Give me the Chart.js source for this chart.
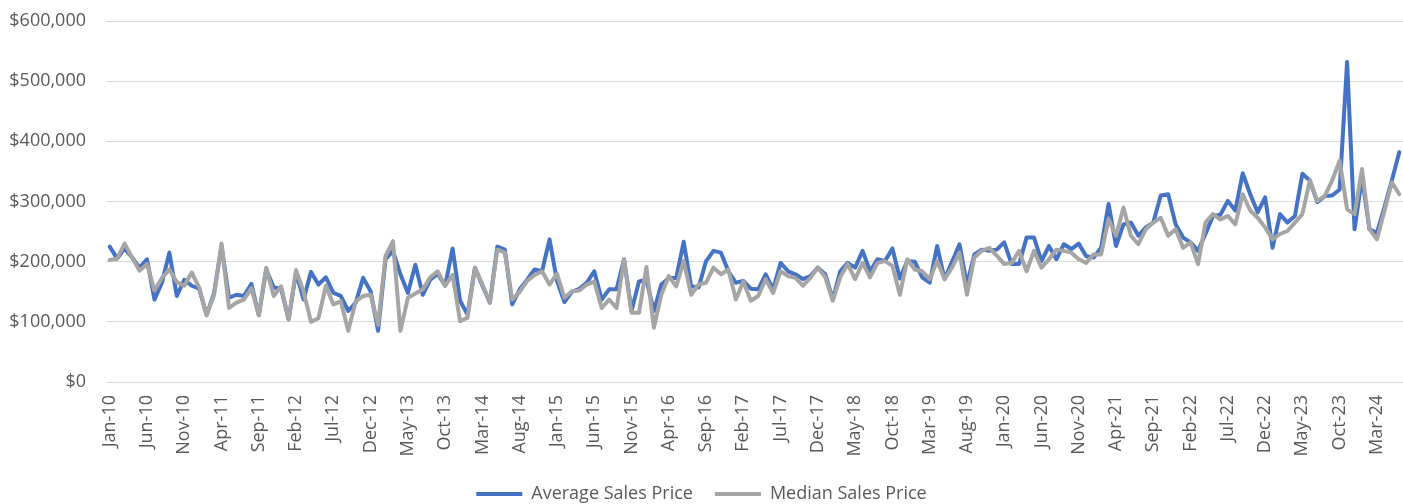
<!DOCTYPE html>
<html>
<head>
<meta charset="utf-8">
<script src="https://cdn.jsdelivr.net/npm/chart.js@4.4.1/dist/chart.umd.min.js"></script>
<style>
  html, body { margin: 0; padding: 0; background: #fff; }
  #wrap { width: 1403px; height: 504px; position: relative; }
</style>
</head>
<body>
<div id="wrap"><canvas id="salesChart"></canvas></div>
<script>
// Monthly categories, Jan-10 .. Jun-24
const monthNames = ['Jan', 'Feb', 'Mar', 'Apr', 'May', 'Jun', 'Jul', 'Aug', 'Sep', 'Oct', 'Nov', 'Dec'];
const firstYear = 2010;
const monthCount = 174;
const labelEvery = 5;

const months = [];
for (let i = 0; i < monthCount; i++) {
    const yy = String((firstYear + Math.floor(i / 12)) % 100).padStart(2, '0');
    months.push(monthNames[i % 12] + '-' + yy);
}

// Values
const averagePrice = [
    225000, 205000, 222000, 207000, 190000, 204000, 137000, 165000, 215000, 143000,
    170000, 160000, 155000, 111000, 148000, 226000, 140000, 145000, 143000, 163000,
    111000, 187000, 157000, 155000, 104000, 182000, 137000, 183000, 162000, 174000,
    148000, 143000, 118000, 132000, 173000, 151000, 85000, 204000, 218000, 179000,
    148000, 195000, 145000, 170000, 180000, 160000, 222000, 135000, 112000, 190000,
    160000, 132000, 225000, 220000, 129000, 154000, 170000, 187000, 184000, 237000,
    168000, 133000, 150000, 155000, 165000, 184000, 137000, 154000, 154000, 204000,
    118000, 167000, 170000, 118000, 162000, 173000, 173000, 233000, 159000, 157000,
    201000, 218000, 215000, 184000, 165000, 168000, 155000, 154000, 179000, 154000,
    198000, 184000, 179000, 171000, 176000, 190000, 179000, 137000, 184000, 198000,
    190000, 218000, 184000, 204000, 201000, 222000, 172000, 201000, 200000, 174000,
    165000, 226000, 171000, 200000, 229000, 162000, 212000, 220000, 218000, 220000,
    232000, 196000, 196000, 240000, 240000, 201000, 226000, 204000, 229000, 221000,
    230000, 209000, 207000, 223000, 296000, 226000, 262000, 265000, 243000, 257000,
    265000, 310000, 312000, 262000, 240000, 232000, 218000, 246000, 276000, 278000,
    301000, 285000, 347000, 312000, 282000, 307000, 223000, 279000, 265000, 276000,
    346000, 335000, 299000, 309000, 310000, 320000, 532000, 254000, 340000, 254000,
    248000, 290000, 335000, 382000
];

const medianPrice = [
    203000, 205000, 230000, 207000, 185000, 196000, 152000, 173000, 187000, 166000,
    160000, 182000, 157000, 111000, 145000, 230000, 123000, 132000, 137000, 156000,
    111000, 190000, 143000, 159000, 104000, 186000, 150000, 100000, 106000, 160000,
    129000, 134000, 85000, 134000, 143000, 145000, 95000, 209000, 234000, 85000,
    140000, 147000, 154000, 174000, 184000, 160000, 178000, 101000, 107000, 190000,
    162000, 132000, 220000, 215000, 137000, 150000, 168000, 178000, 184000, 162000,
    180000, 140000, 151000, 152000, 162000, 167000, 123000, 137000, 123000, 204000,
    115000, 115000, 191000, 90000, 145000, 176000, 159000, 201000, 145000, 162000,
    165000, 190000, 179000, 187000, 137000, 167000, 135000, 143000, 171000, 148000,
    184000, 176000, 173000, 160000, 173000, 190000, 174000, 135000, 174000, 196000,
    171000, 198000, 174000, 198000, 201000, 193000, 145000, 204000, 187000, 184000,
    171000, 201000, 171000, 190000, 215000, 145000, 207000, 218000, 223000, 210000,
    196000, 198000, 218000, 184000, 218000, 190000, 204000, 220000, 218000, 215000,
    204000, 198000, 212000, 212000, 271000, 243000, 290000, 243000, 229000, 254000,
    265000, 273000, 243000, 254000, 223000, 232000, 196000, 265000, 279000, 270000,
    276000, 262000, 312000, 285000, 273000, 257000, 237000, 246000, 251000, 265000,
    279000, 335000, 301000, 309000, 335000, 368000, 287000, 279000, 354000, 254000,
    237000, 284000, 332000, 312000
];

const yTicks = [0, 100000, 200000, 300000, 400000, 500000, 600000];

const textColor = '#595959';
const gridColor = '#d9d9d9';
const fontFamily = '"Open Sans", "DejaVu Sans", sans-serif';

const data = {
    labels: months,
    datasets: [
        {
            label: 'Average Sales Price',
            data: averagePrice,
            borderColor: '#4472c4',
            backgroundColor: '#4472c4',
            borderWidth: 4,
            pointRadius: 0,
            borderJoinStyle: 'round',
            borderCapStyle: 'round',
            tension: 0,
            order: 1 // drawn under the median line
        },
        {
            label: 'Median Sales Price',
            data: medianPrice,
            borderColor: '#a5a5a5',
            backgroundColor: '#a5a5a5',
            borderWidth: 4,
            pointRadius: 0,
            borderJoinStyle: 'round',
            borderCapStyle: 'round',
            tension: 0,
            order: 0
        }
    ]
};

const config = {
    type: 'line',
    data: data,
    options: {
        responsive: true,
        maintainAspectRatio: false,
        animation: false,
        layout: {
            padding: { top: 21, right: 0, bottom: -9, left: 0 }
        },
        plugins: {
            tooltip: { enabled: false },
            legend: {
                display: true,
                position: 'bottom',
                labels: {
                    usePointStyle: true,
                    pointStyle: 'line',
                    pointStyleWidth: 46,
                    color: textColor,
                    padding: 22,
                    font: { family: fontFamily, size: 18 },
                    sort: (a, b) => a.datasetIndex - b.datasetIndex
                }
            }
        },
        scales: {
            x: {
                type: 'category',
                offset: true,
                grid: { display: false, drawTicks: false },
                border: { display: false },
                afterFit: scale => {
                    scale.height = 81;
                    scale.paddingLeft = 0;
                    scale.paddingRight = 0;
                },
                ticks: {
                    autoSkip: false,
                    minRotation: 90,
                    maxRotation: 90,
                    padding: 13,
                    color: textColor,
                    font: { family: fontFamily, size: 18 },
                    callback: function (value, index) {
                        return index % labelEvery === 0 ? this.getLabelForValue(value) : '';
                    }
                }
            },
            y: {
                min: yTicks[0],
                max: yTicks[yTicks.length - 1],
                grid: { color: gridColor, lineWidth: 1, drawTicks: false },
                border: { display: false },
                afterFit: scale => {
                    scale.width = 106;
                    scale.paddingTop = 0;
                    scale.paddingBottom = 0;
                },
                afterBuildTicks: scale => {
                    scale.ticks = yTicks.map(v => ({ value: v }));
                },
                ticks: {
                    padding: 20,
                    color: textColor,
                    font: { family: fontFamily, size: 18 },
                    callback: value => '$' + value.toLocaleString('en-US')
                }
            }
        }
    }
};

const chart = new Chart(document.getElementById('salesChart'), config);
</script>
</body>
</html>
